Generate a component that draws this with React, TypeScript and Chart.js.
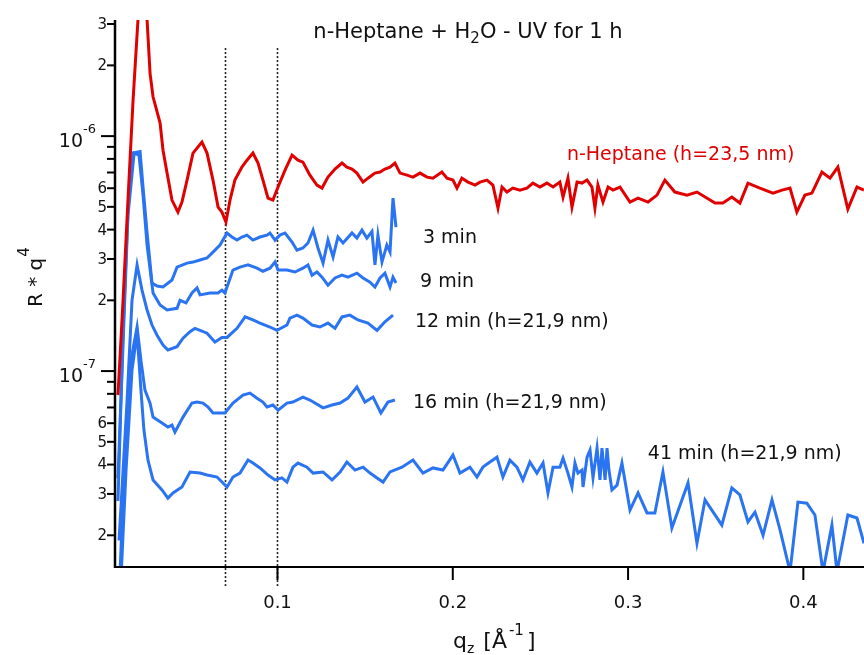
import React, { useEffect, useRef } from "react";
import { Chart, registerables } from "chart.js";

Chart.register(...registerables);

// R * q^4 values are given in units of 1e-7
const UNIT = 1e-7;

const heptaneQ = [0.0090, 0.0119, 0.0147, 0.0176, 0.0204, 0.0227, 0.0256, 0.0273, 0.0290, 0.0330, 0.0347, 0.0370, 0.0398, 0.0432, 0.0455, 0.0484, 0.0518, 0.0569, 0.0598, 0.0632, 0.0661, 0.0683, 0.0706, 0.0729, 0.0757, 0.0797, 0.0826, 0.0860, 0.0889, 0.0917, 0.0946, 0.0974, 0.1003, 0.1043, 0.1083, 0.1117, 0.1145, 0.1185, 0.1225, 0.1254, 0.1288, 0.1328, 0.1368, 0.1396, 0.1425, 0.1453, 0.1488, 0.1516, 0.1556, 0.1585, 0.1613, 0.1642, 0.1670, 0.1699, 0.1739, 0.1773, 0.1813, 0.1853, 0.1887, 0.1938, 0.1967, 0.2001, 0.2024, 0.2052, 0.2087, 0.2127, 0.2155, 0.2195, 0.2229, 0.2258, 0.2281, 0.2309, 0.2343, 0.2383, 0.2423, 0.2457, 0.2497, 0.2537, 0.2572, 0.2611, 0.2629, 0.2657, 0.2680, 0.2709, 0.2737, 0.2766, 0.2794, 0.2811, 0.2828, 0.2857, 0.2886, 0.2914, 0.2954, 0.3011, 0.3057, 0.3114, 0.3165, 0.3210, 0.3267, 0.3336, 0.3393, 0.3496, 0.3541, 0.3592, 0.3638, 0.3684, 0.3752, 0.3827, 0.3878, 0.3924, 0.3963, 0.4009, 0.4049, 0.4106, 0.4152, 0.4197, 0.4254, 0.4306, 0.4346, 0.4380];
const heptaneR = [0.79, 2.0, 5.34, 14.2, 31.2, 40, 31.2, 18.5, 14.7, 11.4, 8.71, 6.96, 5.34, 4.75, 5.24, 6.50, 8.47, 9.43, 8.47, 6.50, 4.99, 4.75, 4.31, 5.34, 6.50, 7.38, 7.90, 8.47, 7.68, 6.50, 5.45, 5.34, 6.07, 7.17, 8.30, 7.90, 7.75, 6.82, 6.19, 6.01, 6.69, 7.24, 7.68, 7.38, 7.24, 6.96, 6.37, 6.62, 6.96, 7.03, 7.24, 7.38, 7.68, 6.96, 6.82, 6.69, 6.96, 6.69, 6.62, 7.03, 6.62, 6.50, 6.01, 6.62, 6.37, 6.19, 6.37, 6.50, 6.19, 4.94, 6.07, 5.78, 6.01, 5.89, 6.01, 6.31, 6.07, 6.31, 6.07, 6.37, 5.50, 6.62, 4.99, 6.37, 6.31, 6.50, 6.07, 4.94, 6.19, 5.24, 6.07, 5.89, 6.07, 5.24, 5.45, 5.24, 5.61, 6.50, 5.78, 5.61, 5.78, 5.19, 5.19, 5.50, 5.19, 6.31, 6.01, 5.72, 5.89, 6.01, 4.75, 5.61, 5.72, 7.03, 6.62, 7.38, 4.89, 6.07, 5.89, 5.70];

const min3Q = [0.0090, 0.0119, 0.0147, 0.0176, 0.0216, 0.0233, 0.0256, 0.0284, 0.0313, 0.0347, 0.0398, 0.0427, 0.0484, 0.0518, 0.0558, 0.0598, 0.0632, 0.0672, 0.0712, 0.0740, 0.0769, 0.0797, 0.0826, 0.0860, 0.0900, 0.0940, 0.0957, 0.0986, 0.1014, 0.1043, 0.1083, 0.1111, 0.1145, 0.1174, 0.1203, 0.1231, 0.1260, 0.1288, 0.1317, 0.1345, 0.1374, 0.1425, 0.1453, 0.1482, 0.1510, 0.1539, 0.1556, 0.1573, 0.1596, 0.1624, 0.1642, 0.1659, 0.1676];
const min3R = [0.28, 1.49, 4.84, 8.47, 8.6, 6.07, 3.87, 2.37, 2.30, 2.28, 2.44, 2.77, 2.88, 2.91, 2.97, 3.03, 3.21, 3.44, 3.87, 3.72, 3.61, 3.72, 3.79, 3.61, 3.72, 3.79, 3.87, 3.61, 3.79, 3.87, 3.54, 3.27, 3.34, 3.51, 3.98, 3.34, 2.88, 3.61, 3.06, 3.72, 3.51, 3.87, 3.68, 3.98, 3.68, 3.93, 2.83, 3.79, 2.91, 3.44, 3.21, 5.45, 4.10];

const min9Q = [0.0090, 0.0119, 0.0147, 0.0182, 0.0210, 0.0233, 0.0256, 0.0290, 0.0330, 0.0370, 0.0427, 0.0444, 0.0478, 0.0512, 0.0541, 0.0558, 0.0615, 0.0661, 0.0683, 0.0700, 0.0746, 0.0786, 0.0832, 0.0883, 0.0917, 0.0957, 0.0986, 0.1003, 0.1054, 0.1100, 0.1145, 0.1174, 0.1197, 0.1225, 0.1254, 0.1288, 0.1328, 0.1368, 0.1402, 0.1453, 0.1488, 0.1528, 0.1556, 0.1585, 0.1613, 0.1642, 0.1659, 0.1676];
const min9R = [0.35, 1.3, 4.6, 8.47, 8.3, 5.61, 3.44, 2.15, 1.91, 1.82, 1.85, 2.0, 1.95, 2.15, 2.26, 2.11, 2.15, 2.15, 2.21, 2.15, 2.69, 2.77, 2.83, 2.74, 2.66, 2.74, 2.91, 2.69, 2.69, 2.64, 2.74, 2.83, 2.56, 2.64, 2.51, 2.32, 2.49, 2.56, 2.51, 2.61, 2.49, 2.39, 2.28, 2.49, 2.61, 2.28, 2.51, 2.37];

const min12Q = [0.0096, 0.0142, 0.0170, 0.0199, 0.0227, 0.0256, 0.0284, 0.0313, 0.0347, 0.0375, 0.0427, 0.0461, 0.0501, 0.0529, 0.0558, 0.0598, 0.0643, 0.0683, 0.0712, 0.0769, 0.0815, 0.0860, 0.0900, 0.0957, 0.0997, 0.1054, 0.1071, 0.1111, 0.1145, 0.1197, 0.1242, 0.1288, 0.1328, 0.1368, 0.1413, 0.1459, 0.1516, 0.1568, 0.1613, 0.1659];
const min12R = [0.19, 0.75, 2.0, 2.83, 2.21, 1.82, 1.57, 1.42, 1.29, 1.23, 1.27, 1.38, 1.47, 1.52, 1.49, 1.45, 1.33, 1.39, 1.39, 1.52, 1.70, 1.65, 1.60, 1.54, 1.49, 1.57, 1.68, 1.73, 1.68, 1.57, 1.54, 1.60, 1.52, 1.70, 1.73, 1.65, 1.60, 1.49, 1.62, 1.73];

const min16Q = [0.0102, 0.0130, 0.0164, 0.0199, 0.0221, 0.0244, 0.0273, 0.0290, 0.0341, 0.0375, 0.0398, 0.0415, 0.0461, 0.0512, 0.0541, 0.0575, 0.0604, 0.0632, 0.0700, 0.0746, 0.0803, 0.0843, 0.0883, 0.0917, 0.0940, 0.0974, 0.1003, 0.1054, 0.1088, 0.1145, 0.1185, 0.1260, 0.1311, 0.1357, 0.1402, 0.1453, 0.1499, 0.1545, 0.1590, 0.1630, 0.1670];
const min16R = [0.14, 0.46, 1.11, 1.54, 1.11, 0.83, 0.73, 0.637, 0.601, 0.578, 0.589, 0.550, 0.637, 0.731, 0.738, 0.731, 0.703, 0.663, 0.663, 0.731, 0.79, 0.806, 0.767, 0.738, 0.703, 0.717, 0.682, 0.731, 0.738, 0.775, 0.753, 0.697, 0.717, 0.731, 0.767, 0.855, 0.738, 0.775, 0.663, 0.738, 0.753];

const min41Q = [0.0107, 0.0136, 0.0170, 0.0199, 0.0221, 0.0238, 0.0261, 0.0290, 0.0341, 0.0375, 0.0404, 0.0455, 0.0501, 0.0558, 0.0598, 0.0655, 0.0712, 0.0746, 0.0786, 0.0832, 0.0860, 0.0900, 0.0946, 0.0986, 0.1025, 0.1054, 0.1088, 0.1117, 0.1168, 0.1203, 0.1260, 0.1311, 0.1357, 0.1396, 0.1442, 0.1488, 0.1528, 0.1568, 0.1602, 0.1642, 0.1710, 0.1773, 0.1830, 0.1887, 0.1944, 0.2001, 0.2041, 0.2098, 0.2138, 0.2172, 0.2212, 0.2252, 0.2286, 0.2326, 0.2366, 0.2400, 0.2440, 0.2480, 0.2515, 0.2543, 0.2572, 0.2611, 0.2629, 0.2657, 0.2680, 0.2697, 0.2714, 0.2737, 0.2743, 0.2766, 0.2783, 0.2800, 0.2823, 0.2840, 0.2851, 0.2869, 0.2880, 0.2891, 0.2908, 0.2937, 0.2965, 0.3011, 0.3057, 0.3108, 0.3153, 0.3199, 0.3250, 0.3342, 0.3393, 0.3439, 0.3535, 0.3592, 0.3638, 0.3684, 0.3724, 0.3770, 0.3821, 0.3867, 0.3924, 0.3969, 0.4020, 0.4066, 0.4112, 0.4163, 0.4192, 0.4254, 0.4306, 0.4346, 0.4380];
const min41R = [0.13, 0.379, 1.01, 1.45, 0.83, 0.561, 0.418, 0.344, 0.312, 0.288, 0.303, 0.321, 0.372, 0.368, 0.361, 0.354, 0.321, 0.354, 0.368, 0.418, 0.406, 0.387, 0.361, 0.344, 0.351, 0.337, 0.390, 0.406, 0.390, 0.368, 0.372, 0.344, 0.372, 0.410, 0.379, 0.390, 0.368, 0.351, 0.337, 0.372, 0.390, 0.418, 0.368, 0.387, 0.379, 0.439, 0.368, 0.390, 0.354, 0.390, 0.410, 0.430, 0.354, 0.418, 0.390, 0.344, 0.410, 0.368, 0.406, 0.303, 0.390, 0.390, 0.426, 0.368, 0.321, 0.406, 0.368, 0.379, 0.321, 0.430, 0.461, 0.351, 0.470, 0.344, 0.470, 0.344, 0.470, 0.379, 0.312, 0.327, 0.406, 0.256, 0.303, 0.249, 0.249, 0.372, 0.215, 0.334, 0.185, 0.283, 0.221, 0.318, 0.297, 0.228, 0.251, 0.200, 0.283, 0.211, 0.14, 0.277, 0.274, 0.244, 0.14, 0.221, 0.14, 0.244, 0.237, 0.185, 0.20];

const seriesNames = ["n-Heptane (h=23,5 nm)", "3 min", "9 min", "12 min (h=21,9 nm)", "16 min (h=21,9 nm)", "41 min (h=21,9 nm)"];
const labelQ = [0.2651, 0.1830, 0.1813, 0.1784, 0.1773, 0.3113];
const labelR = [7.9, 3.51, 2.28, 1.54, 0.696, 0.422];

const xTickValues = [0.1, 0.2, 0.3, 0.4];
const xTickLabels = ["0.1", "0.2", "0.3", "0.4"];
const yLabeledTicks = [2e-8, 3e-8, 4e-8, 5e-8, 6e-8, 2e-7, 3e-7, 4e-7, 5e-7, 6e-7, 2e-6, 3e-6];
const yLabeledText = ["2", "3", "4", "5", "6", "2", "3", "4", "5", "6", "2", "3"];
const yMinorTicks = [7e-8, 8e-8, 9e-8, 7e-7, 8e-7, 9e-7];
const yDecadeTicks = [1e-7, 1e-6];
const yDecadeExp = ["-7", "-6"];
const guideQ = [0.07, 0.1];
const GUIDE_TOP = 2.37e-6;

const X_MIN = 0.0073;
const X_MAX = 0.4346;
const Y_MIN = 1.466e-8;
const Y_MAX = 3.12e-6;

const RED = "#e00000";
const BLUE = "#2a74f2";
const INK = "#111111";
const FONT = '"DejaVu Sans", "Liberation Sans", sans-serif';

function pts(q: number[], r: number[]) {
  return q.map((x, i) => ({ x, y: r[i] * UNIT }));
}

const decorPlugin = {
  id: "decor",
  beforeDatasetsDraw(chart: any) {
    const { ctx, chartArea, scales } = chart;
    const xs = scales.x;
    const ys = scales.y;
    ctx.save();
    ctx.strokeStyle = "#222";
    ctx.lineWidth = 1.6;
    ctx.setLineDash([2, 2]);
    guideQ.forEach((q) => {
      const px = Math.round(xs.getPixelForValue(q)) + 0.5;
      ctx.beginPath();
      ctx.moveTo(px, ys.getPixelForValue(GUIDE_TOP));
      ctx.lineTo(px, chartArea.bottom + 20);
      ctx.stroke();
    });
    ctx.restore();
  },
  afterDraw(chart: any) {
    const { ctx, chartArea, scales } = chart;
    const xs = scales.x;
    const ys = scales.y;
    const L = chartArea.left;
    const B = chartArea.bottom;
    ctx.save();
    ctx.setLineDash([]);
    ctx.strokeStyle = "#000";
    // axes
    ctx.lineWidth = 2.5;
    ctx.beginPath();
    ctx.moveTo(L, chartArea.top);
    ctx.lineTo(L, B + 1);
    ctx.stroke();
    ctx.lineWidth = 2;
    ctx.beginPath();
    ctx.moveTo(L - 1, B);
    ctx.lineTo(chartArea.right, B);
    ctx.stroke();

    // x ticks
    ctx.fillStyle = INK;
    ctx.font = `18px ${FONT}`;
    ctx.textAlign = "center";
    ctx.textBaseline = "alphabetic";
    xTickValues.forEach((v, i) => {
      const px = xs.getPixelForValue(v);
      ctx.beginPath();
      ctx.moveTo(px, B);
      ctx.lineTo(px, B + 13);
      ctx.stroke();
      ctx.fillText(xTickLabels[i], px, B + 41);
    });

    // y ticks
    ctx.font = `15px ${FONT}`;
    ctx.textAlign = "right";
    ctx.textBaseline = "middle";
    yLabeledTicks.forEach((v, i) => {
      const py = ys.getPixelForValue(v);
      ctx.beginPath();
      ctx.moveTo(L - 8, py);
      ctx.lineTo(L, py);
      ctx.stroke();
      ctx.fillText(yLabeledText[i], L - 8, py + 1);
    });
    yMinorTicks.forEach((v) => {
      const py = ys.getPixelForValue(v);
      ctx.beginPath();
      ctx.moveTo(L - 8, py);
      ctx.lineTo(L, py);
      ctx.stroke();
    });
    ctx.textBaseline = "alphabetic";
    yDecadeTicks.forEach((v, i) => {
      const py = ys.getPixelForValue(v);
      ctx.beginPath();
      ctx.moveTo(L - 14, py);
      ctx.lineTo(L, py);
      ctx.stroke();
      ctx.font = `13px ${FONT}`;
      ctx.textAlign = "right";
      const right = L - 19;
      ctx.fillText(yDecadeExp[i], right, py - 3);
      const ew = ctx.measureText(yDecadeExp[i]).width;
      ctx.font = `19px ${FONT}`;
      ctx.fillText("10", right - ew, py + 11);
    });

    // title
    ctx.textAlign = "left";
    const tA = "n-Heptane + H";
    const tSub = "2";
    const tB = "O - UV for 1 h";
    ctx.font = `21px ${FONT}`;
    const wA = ctx.measureText(tA).width;
    const wB = ctx.measureText(tB).width;
    ctx.font = `15px ${FONT}`;
    const wS = ctx.measureText(tSub).width;
    let tx = 468 - (wA + wS + wB) / 2;
    const tBase = 38;
    ctx.font = `21px ${FONT}`;
    ctx.fillText(tA, tx, tBase);
    tx += wA;
    ctx.font = `15px ${FONT}`;
    ctx.fillText(tSub, tx, tBase + 5);
    tx += wS;
    ctx.font = `21px ${FONT}`;
    ctx.fillText(tB, tx, tBase);

    // x axis title: q_z [Å^-1]
    let ax = 453;
    const aBase = 648;
    ctx.font = `22px ${FONT}`;
    ctx.fillText("q", ax, aBase);
    ax += ctx.measureText("q").width;
    ctx.font = `14px ${FONT}`;
    ctx.fillText("z", ax, aBase + 5);
    ax += ctx.measureText("z").width + 2;
    ctx.font = `22px ${FONT}`;
    ctx.fillText(" [Å", ax, aBase);
    ax += ctx.measureText(" [Å").width;
    ctx.font = `15px ${FONT}`;
    ctx.fillText("-1", ax + 2, aBase - 13);
    ax += ctx.measureText("-1").width + 5;
    ctx.font = `22px ${FONT}`;
    ctx.fillText("]", ax, aBase);

    // y axis title: R * q^4
    ctx.save();
    ctx.translate(42, 307);
    ctx.rotate(-Math.PI / 2);
    ctx.font = `20px ${FONT}`;
    ctx.fillText("R * q", 0, 0);
    const yw = ctx.measureText("R * q").width;
    ctx.font = `15px ${FONT}`;
    ctx.fillText("4", yw + 1, -13);
    ctx.restore();

    // series labels
    ctx.font = `19px ${FONT}`;
    ctx.textAlign = "left";
    seriesNames.forEach((name, i) => {
      ctx.fillStyle = i === 0 ? RED : INK;
      ctx.fillText(name, xs.getPixelForValue(labelQ[i]), ys.getPixelForValue(labelR[i] * UNIT));
    });
    ctx.restore();
  },
};

export default function App() {
  const ref = useRef<HTMLCanvasElement | null>(null);
  useEffect(() => {
    document.body.style.margin = "0";
    const canvas = ref.current;
    if (!canvas) return;
    const lineStyle = (color: string) => ({
      borderColor: color,
      backgroundColor: color,
      borderWidth: 3,
      pointRadius: 0,
      tension: 0,
      fill: false,
    });
    const chart = new Chart(canvas, {
      type: "line",
      data: {
        datasets: [
          { label: seriesNames[0], data: pts(heptaneQ, heptaneR), ...lineStyle(RED) },
          { label: seriesNames[1], data: pts(min3Q, min3R), ...lineStyle(BLUE) },
          { label: seriesNames[2], data: pts(min9Q, min9R), ...lineStyle(BLUE) },
          { label: seriesNames[3], data: pts(min12Q, min12R), ...lineStyle(BLUE) },
          { label: seriesNames[4], data: pts(min16Q, min16R), ...lineStyle(BLUE) },
          { label: seriesNames[5], data: pts(min41Q, min41R), ...lineStyle(BLUE) },
        ],
      },
      options: {
        responsive: false,
        animation: false,
        devicePixelRatio: 1,
        layout: { padding: { left: 115, top: 20, right: 0, bottom: 88 } },
        plugins: { legend: { display: false }, tooltip: { enabled: false }, title: { display: false } },
        events: [],
        scales: {
          x: { type: "linear", min: X_MIN, max: X_MAX, bounds: "data", display: false },
          y: { type: "logarithmic", min: Y_MIN, max: Y_MAX, bounds: "data", display: false },
        },
      },
      plugins: [decorPlugin],
    } as any);
    return () => chart.destroy();
  }, []);
  return (
    <div style={{ width: 864, height: 655, background: "#fff" }}>
      <canvas ref={ref} width={864} height={655} style={{ display: "block" }} />
    </div>
  );
}
